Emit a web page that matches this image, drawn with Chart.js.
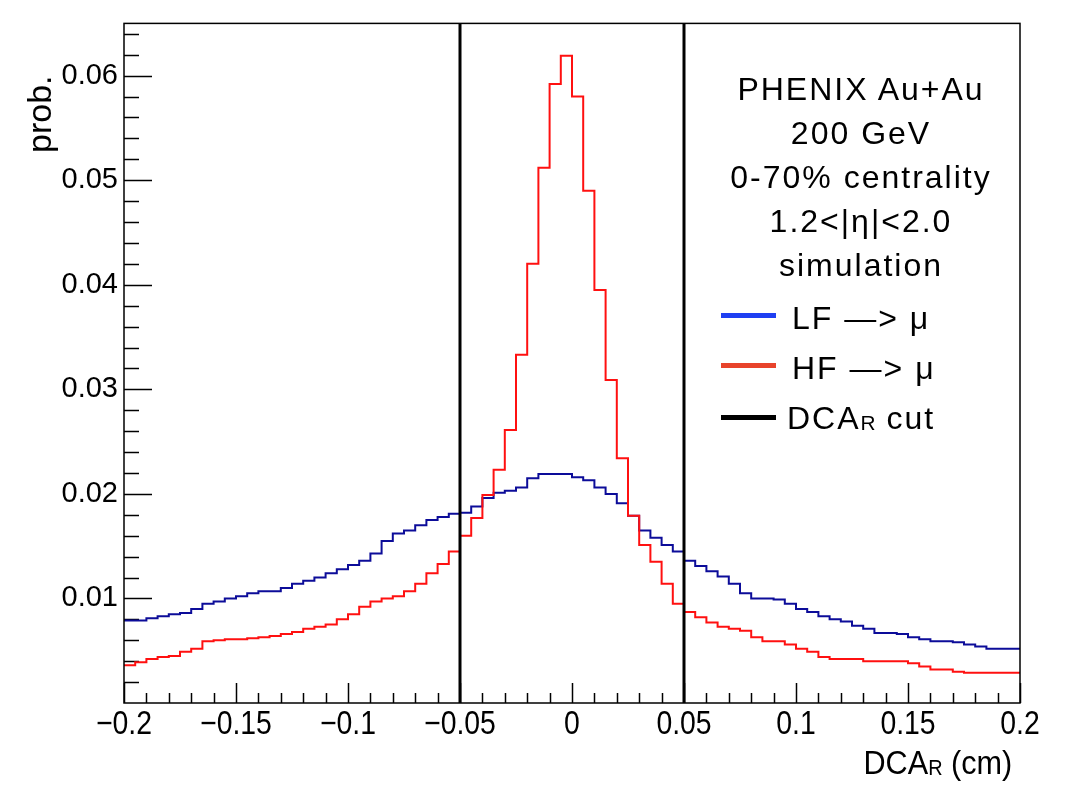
<!DOCTYPE html>
<html>
<head>
<meta charset="utf-8">
<script src="https://cdn.jsdelivr.net/npm/chart.js@4.4.1/dist/chart.umd.min.js"></script>
<style>
  body { margin: 0; background: #fff; }
  #wrap { position: relative; width: 1070px; height: 800px; }
  #dcaChart { position: absolute; left: 0; top: 0; }
  .txt { position: absolute; font-family: 'Liberation Sans', Arial, Helvetica, sans-serif; color: #000; white-space: nowrap; }
  .info { left: 661px; width: 400px; top: 67px; text-align: center; font-size: 32px; line-height: 44px; letter-spacing: 2px; }
  .leg { left: 792px; font-size: 32px; line-height: 36px; letter-spacing: 2px; }
  .legline { position: absolute; left: 721px; width: 55px; height: 5px; }
  sub { font-size: 0.65em; vertical-align: -0.05em; letter-spacing: 0; }
</style>
</head>
<body>
<div id="wrap">
  <canvas id="dcaChart" width="1070" height="800"></canvas>

  <div class="txt" style="left:20px; top:153px; font-size:34px; transform: rotate(-90deg); transform-origin: left top;">prob.</div>
  <div class="txt" style="right:58px; top:743px; font-size:34px; transform: scaleX(0.9); transform-origin: right top;">DCA<sub>R</sub> (cm)</div>

  <div class="txt info">PHENIX Au+Au<br>200 GeV<br>0-70% centrality<br>1.2&lt;|η|&lt;2.0<br>simulation</div>

  <div class="legline" style="top:313px; background:#1f3ff2;"></div>
  <div class="txt leg" style="top:300px;">LF —&gt; μ</div>
  <div class="legline" style="top:363px; background:#e8432b;"></div>
  <div class="txt leg" style="top:350px;">HF —&gt; μ</div>
  <div class="legline" style="top:415px; background:#000;"></div>
  <div class="txt leg" style="top:400px; left:787px;">DCA<sub>R</sub> cut</div>
</div>

<script>
// histogram binning: 80 bins of 0.005 cm from -0.2 to 0.2
const binLow = -0.2;
const binWidth = 0.005;

// LF -> mu (blue), one value per bin
const lfValues = [
  0.0079, 0.0079, 0.0081, 0.0083, 0.0085, 0.0086, 0.0090, 0.0095, 0.0097, 0.0100,
  0.0102, 0.0105, 0.0107, 0.0107, 0.0110, 0.0114, 0.0117, 0.0120, 0.0124, 0.0128,
  0.0132, 0.0136, 0.0143, 0.0155, 0.0162, 0.0165, 0.0170, 0.0175, 0.0178, 0.0181,
  0.0182, 0.0188, 0.0196, 0.0201, 0.0203, 0.0206, 0.0215, 0.0219, 0.0219, 0.0219,
  0.0216, 0.0213, 0.0206, 0.0200, 0.0191, 0.0179, 0.0165, 0.0158, 0.0151, 0.0145,
  0.0136, 0.0131, 0.0126, 0.0121, 0.0114, 0.0105, 0.0100, 0.0100, 0.0099, 0.0095,
  0.0090, 0.0087, 0.0083, 0.0080, 0.0078, 0.0074, 0.0071, 0.0067, 0.0067, 0.0066,
  0.0063, 0.0061, 0.0059, 0.0059, 0.0058, 0.0056, 0.0054, 0.0052, 0.0052, 0.0052
];

// HF -> mu (red)
const hfValues = [
  0.0036, 0.0039, 0.0042, 0.0044, 0.0045, 0.0049, 0.0052, 0.0059, 0.0060, 0.0061,
  0.0061, 0.0062, 0.0063, 0.0064, 0.0066, 0.0068, 0.0071, 0.0073, 0.0075, 0.0080,
  0.0085, 0.0092, 0.0097, 0.0100, 0.0102, 0.0107, 0.0114, 0.0124, 0.0133, 0.0145,
  0.0160, 0.0177, 0.0199, 0.0223, 0.0261, 0.0333, 0.0420, 0.0512, 0.0592, 0.0619,
  0.0580, 0.0490, 0.0395, 0.0309, 0.0234, 0.0179, 0.0151, 0.0135, 0.0114, 0.0095,
  0.0087, 0.0082, 0.0077, 0.0073, 0.0071, 0.0069, 0.0063, 0.0059, 0.0059, 0.0056,
  0.0052, 0.0049, 0.0044, 0.0042, 0.0042, 0.0042, 0.0040, 0.0040, 0.0040, 0.0040,
  0.0038, 0.0035, 0.0032, 0.0032, 0.0030, 0.0029, 0.0029, 0.0029, 0.0029, 0.0029
];

// DCA_R cut positions
const cutValues = [-0.05, 0.05];

// axis ranges and tick labels
const xMin = -0.2, xMax = 0.2;
const yMin = 0, yMax = 0.065;
const xTickValues = [-0.2, -0.15, -0.1, -0.05, 0, 0.05, 0.1, 0.15, 0.2];
const xTickLabels = ['\u22120.2', '\u22120.15', '\u22120.1', '\u22120.05', '0', '0.05', '0.1', '0.15', '0.2'];
const yTickValues = [0.01, 0.02, 0.03, 0.04, 0.05, 0.06];
const yTickLabels = ['0.01', '0.02', '0.03', '0.04', '0.05', '0.06'];

// left bin edges plus the last right edge, for a stepped outline
function histPoints(values) {
  const pts = values.map((v, i) => ({ x: binLow + i * binWidth, y: v }));
  pts.push({ x: binLow + values.length * binWidth, y: values[values.length - 1] });
  return pts;
}

function cutLine(xv) {
  return [{ x: xv, y: yMin }, { x: xv, y: yMax }];
}

// ROOT style frame with ticks pointing inwards, narrow x labels
const rootFrame = {
  id: 'rootFrame',
  beforeDatasetsDraw(chart) {
    const { ctx, chartArea: a, scales: { x, y } } = chart;
    ctx.save();
    ctx.strokeStyle = '#000';
    ctx.lineWidth = 1.5;
    ctx.beginPath();
    for (let i = 0; i <= 40; i++) {
      const px = Math.round(x.getPixelForValue(xMin + i * 0.01)) + 0.5;
      const len = i % 5 === 0 ? 20 : 10;
      ctx.moveTo(px, a.bottom);
      ctx.lineTo(px, a.bottom - len);
    }
    for (let i = 1; i <= 32; i++) {
      const py = Math.round(y.getPixelForValue(i * 0.002)) + 0.5;
      const len = i % 5 === 0 ? 28 : 15;
      ctx.moveTo(a.left, py);
      ctx.lineTo(a.left + len, py);
    }
    ctx.stroke();
    ctx.restore();
  },
  afterDatasetsDraw(chart) {
    const { ctx, chartArea: a, scales: { x } } = chart;
    ctx.save();
    ctx.strokeStyle = '#000';
    ctx.lineWidth = 1.5;
    ctx.strokeRect(a.left, a.top, a.right - a.left, a.bottom - a.top);
    ctx.fillStyle = '#000';
    ctx.font = "33px 'Liberation Sans', Arial, sans-serif";
    ctx.textAlign = 'center';
    ctx.textBaseline = 'alphabetic';
    xTickValues.forEach((v, i) => {
      ctx.save();
      ctx.translate(x.getPixelForValue(v), a.bottom + 31);
      ctx.scale(0.86, 1);
      ctx.fillText(xTickLabels[i], 0, 0);
      ctx.restore();
    });
    ctx.restore();
  }
};

const ctx = document.getElementById('dcaChart').getContext('2d');
new Chart(ctx, {
  type: 'line',
  data: {
    datasets: [
      ...cutValues.map(c => ({
        label: 'DCA_R cut',
        data: cutLine(c),
        borderColor: '#000',
        borderWidth: 3,
        pointRadius: 0
      })),
      {
        label: 'HF -> mu',
        data: histPoints(hfValues),
        borderColor: '#ff1010',
        borderWidth: 2,
        pointRadius: 0,
        stepped: 'before'
      },
      {
        label: 'LF -> mu',
        data: histPoints(lfValues),
        borderColor: '#0c0c99',
        borderWidth: 2,
        pointRadius: 0,
        stepped: 'before'
      }
    ]
  },
  options: {
    responsive: false,
    animation: false,
    layout: { padding: { left: 0, top: 20, right: 50, bottom: 0 } },
    plugins: {
      legend: { display: false },
      tooltip: { enabled: false }
    },
    scales: {
      x: {
        type: 'linear',
        min: xMin,
        max: xMax,
        afterBuildTicks: s => { s.ticks = xTickValues.map(v => ({ value: v })); },
        afterFit: s => { s.height = 97; },
        grid: { display: false, drawTicks: false },
        border: { display: false },
        ticks: { display: false }
      },
      y: {
        min: yMin,
        max: yMax,
        afterBuildTicks: s => { s.ticks = yTickValues.map(v => ({ value: v })); },
        afterFit: s => { s.width = 124; },
        grid: { display: false, drawTicks: false },
        border: { display: false },
        ticks: {
          padding: 6,
          color: '#000',
          font: { family: "'Liberation Sans', Arial, sans-serif", size: 29 },
          callback: (v, i) => yTickLabels[i]
        }
      }
    }
  },
  plugins: [rootFrame]
});
</script>
</body>
</html>
